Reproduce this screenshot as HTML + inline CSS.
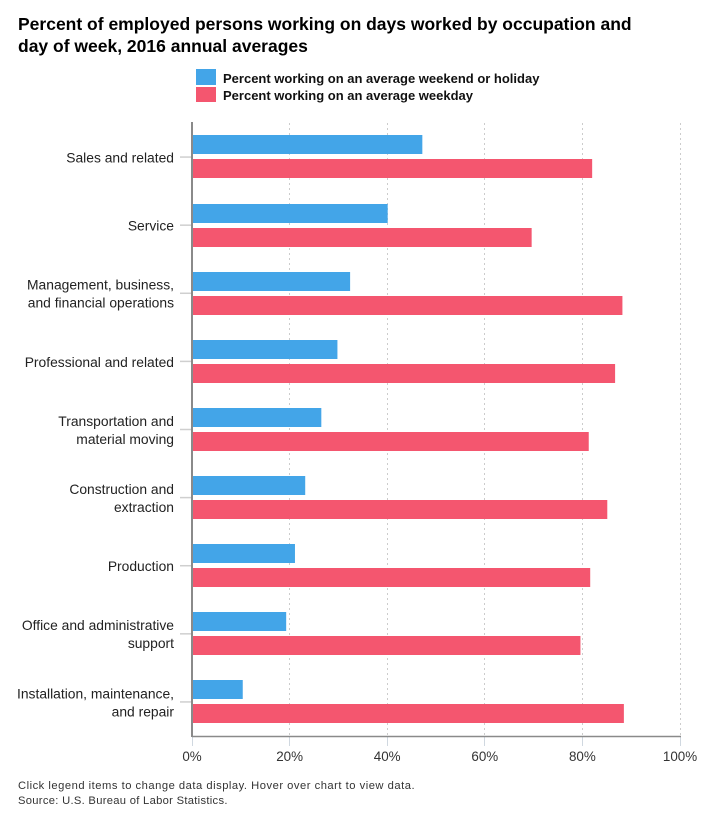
<!DOCTYPE html>
<html lang="en">
<head>
<meta charset="utf-8">
<title>Percent of employed persons working on days worked</title>
<style>
html,body{margin:0;padding:0;background:#fff;}
#chart{display:block;}
text{font-family:"Liberation Sans",sans-serif;}
.title{font-size:17.5px;font-weight:bold;fill:#000;}
.legend{font-size:13px;font-weight:bold;fill:#111;}
.cat{font-size:13.85px;fill:#222;text-anchor:end;}
.tick{font-size:13.4px;fill:#333;text-anchor:middle;}
.foot{font-size:11.2px;fill:#333;letter-spacing:.51px;}
.foot.src{letter-spacing:.3px;}
</style>
</head>
<body>
<svg id="chart" width="707" height="816" viewBox="0 0 707 816" xmlns="http://www.w3.org/2000/svg">
  <text class="title" x="18" y="30">Percent of employed persons working on days worked by occupation and</text>
  <text class="title" x="18" y="52">day of week, 2016 annual averages</text>
  <g style="cursor:pointer">
    <rect x="196" y="69" width="20" height="16" fill="#43a5e8"/>
    <text class="legend" x="223" y="83">Percent working on an average weekend or holiday</text>
  </g>
  <g style="cursor:pointer">
    <rect x="196" y="87" width="20" height="15" fill="#f4566f"/>
    <text class="legend" x="223" y="100">Percent working on an average weekday</text>
  </g>
  <g id="grid"></g>
  <g id="bars"></g>
  <g id="axes"></g>
  <text class="foot" x="18" y="789">Click legend items to change data display. Hover over chart to view data.</text>
  <text class="foot src" x="18" y="804">Source: U.S. Bureau of Labor Statistics.</text>
</svg>
<script>
const categories = [
  ["Sales and related"],
  ["Service"],
  ["Management, business,", "and financial operations"],
  ["Professional and related"],
  ["Transportation and", "material moving"],
  ["Construction and", "extraction"],
  ["Production"],
  ["Office and administrative", "support"],
  ["Installation, maintenance,", "and repair"]
];
const weekendValues = [47.2, 40.1, 32.4, 29.8, 26.5, 23.2, 21.1, 19.3, 10.4];
const weekdayValues = [82.0, 69.6, 88.2, 86.7, 81.3, 85.1, 81.6, 79.6, 88.5];
const xTicks = [0, 20, 40, 60, 80, 100];

const NS = "http://www.w3.org/2000/svg";
const plotLeft = 192, plotRight = 680, plotTop = 123, plotBottom = 736;
const xScale = v => plotLeft + (v - 0) / 100 * (plotRight - plotLeft);
const bandHeight = (plotBottom - plotTop) / categories.length;
const bandCenter = i => plotTop + bandHeight * (i + 0.5);

function make(tag, attrs, parent) {
  const el = document.createElementNS(NS, tag);
  for (const k in attrs) el.setAttribute(k, attrs[k]);
  parent.appendChild(el);
  return el;
}

const gridG = document.getElementById("grid");
const barsG = document.getElementById("bars");
const axesG = document.getElementById("axes");

xTicks.forEach(t => {
  const x = Math.floor(xScale(t)) + 0.5;
  if (t !== 0) {
    const line = make("line", {x1: x, x2: x, y1: plotTop, y2: plotBottom, stroke: "#cccccc", "stroke-width": 1, "stroke-dasharray": "2 3"}, gridG);
    
    
  }
  const tick = make("line", {x1: x, x2: x, y1: plotBottom, y2: plotBottom + 10, stroke: "#d0d8e0", "stroke-width": 1}, axesG);
  
  
  const label = make("text", {class: "tick", x: xScale(t), y: 761}, axesG);
  label.textContent = t + "%";
  
  
});

categories.forEach((lines, i) => {
  const c = bandCenter(i);
  const w = make("rect", {x: plotLeft, y: Math.round(c - 21.6), width: xScale(weekendValues[i]) - plotLeft, height: 19, fill: "#43a5e8"}, barsG);
  
  
  const d = make("rect", {x: plotLeft, y: Math.round(c + 2.4), width: xScale(weekdayValues[i]) - plotLeft, height: 19, fill: "#f4566f"}, barsG);
  
  
  const tick = make("line", {x1: 180, x2: plotLeft, y1: c, y2: c, stroke: "#cfcfcf", "stroke-width": 1.5}, axesG);
  
  
  lines.forEach((ln, j) => {
    const baseY = c + 5.4 + (j - (lines.length - 1) / 2) * 18;
    const t = make("text", {class: "cat", x: 174, y: baseY}, axesG);
    t.textContent = ln;
    
    
  });
});

const yAxis = make("line", {x1: plotLeft, x2: plotLeft, y1: plotTop - 1, y2: plotBottom + 1, stroke: "#8a8a8a", "stroke-width": 2}, axesG);


const xAxis = make("line", {x1: plotLeft, x2: plotRight + 1, y1: plotBottom + 0.5, y2: plotBottom + 0.5, stroke: "#8a8a8a", "stroke-width": 1.5}, axesG);


</script>
</body>
</html>
